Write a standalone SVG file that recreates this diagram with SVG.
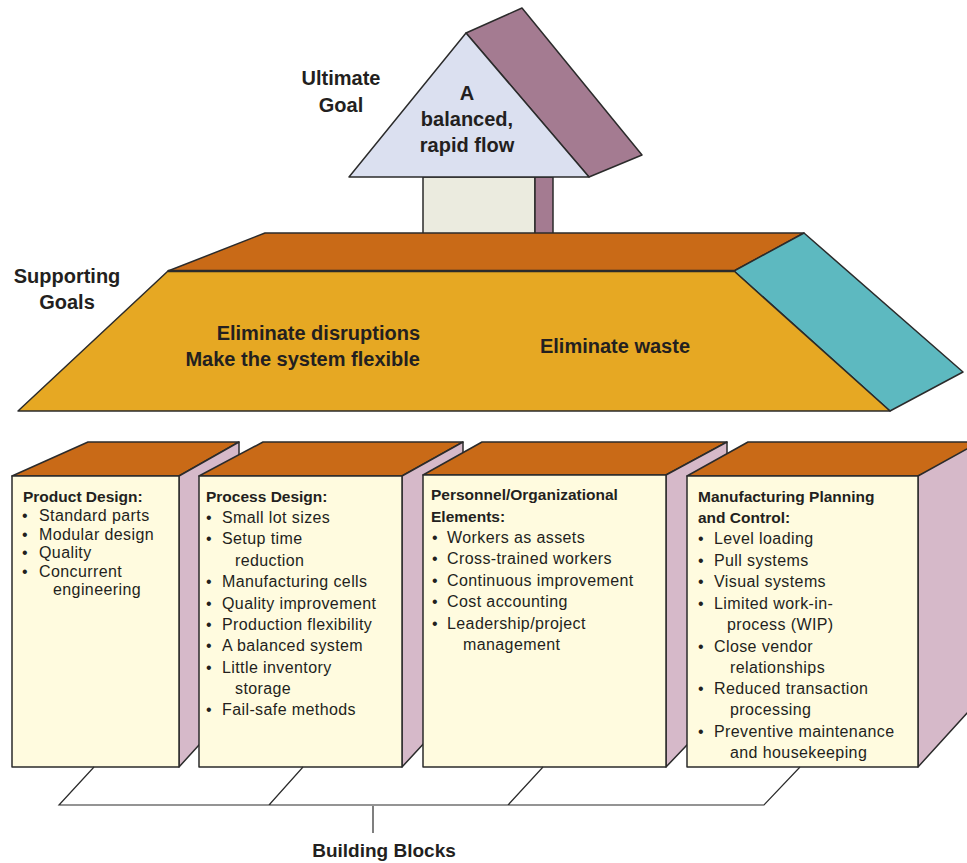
<svg xmlns="http://www.w3.org/2000/svg" width="967" height="863" viewBox="0 0 967 863">
<style>
.ln{stroke:#2b2b2b;stroke-width:1.5;stroke-linejoin:round}
.top{fill:#c96a17}
.front{fill:#fffbdf}
.side{fill:#d6b9c9}
.big{font-family:"Liberation Sans",Arial,sans-serif;font-weight:bold;font-size:20px;fill:#231f20}
.hd{font-family:"Liberation Sans",Arial,sans-serif;font-weight:bold;font-size:15.5px;fill:#231f20}
.it{font-family:"Liberation Sans",Arial,sans-serif;font-size:16px;letter-spacing:0.4px;fill:#231f20}
.br{fill:none;stroke:#2b2b2b;stroke-width:1.2}
</style>
<rect width="967" height="863" fill="#ffffff"/>

<g id="ultimate-goal">
  <rect x="423" y="177" width="112" height="57" fill="#ebebdf" class="ln"/>
  <rect x="535" y="177" width="18" height="57" fill="#a47b91" class="ln"/>
  <polygon points="466,33 522,8 642,155 589,177" fill="#a47b91" class="ln"/>
  <polygon points="466,33 589,177 349,177" fill="#dbe0f0" class="ln"/>
  <text class="big" text-anchor="middle" x="467" y="100">A</text>
  <text class="big" text-anchor="middle" x="467" y="126">balanced,</text>
  <text class="big" text-anchor="middle" x="467" y="152">rapid flow</text>
  <text class="big" text-anchor="middle" x="341" y="85">Ultimate</text>
  <text class="big" text-anchor="middle" x="341" y="112">Goal</text>
</g>

<g id="supporting-goals">
  <polygon points="168,271 265,233 804,233 734,271" class="top ln"/>
  <polygon points="734,271 804,233 963,372 890,411" fill="#5db9c0" class="ln"/>
  <polygon points="168,271 734,271 890,411 18,411" fill="#e6a823" class="ln"/>
  <line x1="168" y1="271" x2="734" y2="271" stroke="#2b2b2b" stroke-width="2.5"/>
  <text class="big" text-anchor="end" x="420" y="340">Eliminate disruptions</text>
  <text class="big" text-anchor="end" x="420" y="366">Make the system flexible</text>
  <text class="big" text-anchor="middle" x="615" y="353">Eliminate waste</text>
  <text class="big" text-anchor="middle" x="67" y="283">Supporting</text>
  <text class="big" text-anchor="middle" x="67" y="309">Goals</text>
</g>

<g id="block-product-design">
  <polygon points="12,476 88,442 239,442 179,476" class="top ln"/>
  <polygon points="179,476 239,442 239,701 179,767" class="side ln"/>
  <rect x="12" y="476" width="167" height="291" class="front ln"/>
  <text class="hd" x="23" y="502">Product Design:</text>
  <g class="it">
    <text x="22" y="521">•</text><text x="39" y="521">Standard parts</text>
    <text x="22" y="540">•</text><text x="39" y="540">Modular design</text>
    <text x="22" y="558">•</text><text x="39" y="558">Quality</text>
    <text x="22" y="577">•</text><text x="39" y="577">Concurrent</text>
    <text x="53" y="595">engineering</text>
  </g>
</g>

<g id="block-process-design">
  <polygon points="199,476 263,442 463,442 402,476" class="top ln"/>
  <polygon points="402,476 463,442 463,701 402,767" class="side ln"/>
  <rect x="199" y="476" width="203" height="291" class="front ln"/>
  <text class="hd" x="206" y="502">Process Design:</text>
  <g class="it">
    <text x="206" y="523">•</text><text x="222" y="523">Small lot sizes</text>
    <text x="206" y="544">•</text><text x="222" y="544">Setup time</text>
    <text x="235" y="566">reduction</text>
    <text x="206" y="587">•</text><text x="222" y="587">Manufacturing cells</text>
    <text x="206" y="609">•</text><text x="222" y="609">Quality improvement</text>
    <text x="206" y="630">•</text><text x="222" y="630">Production flexibility</text>
    <text x="206" y="651">•</text><text x="222" y="651">A balanced system</text>
    <text x="206" y="673">•</text><text x="222" y="673">Little inventory</text>
    <text x="235" y="694">storage</text>
    <text x="206" y="715">•</text><text x="222" y="715">Fail-safe methods</text>
  </g>
</g>

<g id="block-personnel">
  <polygon points="423,475 482,442 727,442 666,475" class="top ln"/>
  <polygon points="666,475 727,442 727,703 666,767" class="side ln"/>
  <rect x="423" y="475" width="243" height="292" class="front ln"/>
  <text class="hd" x="431" y="500">Personnel/Organizational</text>
  <text class="hd" x="431" y="522">Elements:</text>
  <g class="it">
    <text x="432" y="543">•</text><text x="447" y="543">Workers as assets</text>
    <text x="432" y="564">•</text><text x="447" y="564">Cross-trained workers</text>
    <text x="432" y="586">•</text><text x="447" y="586">Continuous improvement</text>
    <text x="432" y="607">•</text><text x="447" y="607">Cost accounting</text>
    <text x="432" y="629">•</text><text x="447" y="629">Leadership/project</text>
    <text x="463" y="650">management</text>
  </g>
</g>

<g id="block-mpc">
  <polygon points="687,476 748,442 990,442 918,476" class="top ln"/>
  <polygon points="918,476 990,436 990,688 918,767" class="side ln"/>
  <rect x="687" y="476" width="231" height="291" class="front ln"/>
  <text class="hd" x="698" y="502">Manufacturing Planning</text>
  <text class="hd" x="698" y="523">and Control:</text>
  <g class="it">
    <text x="698" y="544">•</text><text x="714" y="544">Level loading</text>
    <text x="698" y="566">•</text><text x="714" y="566">Pull systems</text>
    <text x="698" y="587">•</text><text x="714" y="587">Visual systems</text>
    <text x="698" y="609">•</text><text x="714" y="609">Limited work-in-</text>
    <text x="727" y="630">process (WIP)</text>
    <text x="698" y="652">•</text><text x="714" y="652">Close vendor</text>
    <text x="730" y="673">relationships</text>
    <text x="698" y="694">•</text><text x="714" y="694">Reduced transaction</text>
    <text x="730" y="715">processing</text>
    <text x="698" y="737">•</text><text x="714" y="737">Preventive maintenance</text>
    <text x="730" y="758">and housekeeping</text>
  </g>
</g>

<g id="connectors">
  <path class="br" d="M94,767 L59,805 L764,805 L800,767 M303,767 L269,805 M543,767 L508,805 M373,806 L373,833"/>
</g>

<g id="building-blocks-label">
  <text class="big" text-anchor="middle" x="384" y="857" style="font-size:19px">Building Blocks</text>
</g>
</svg>
